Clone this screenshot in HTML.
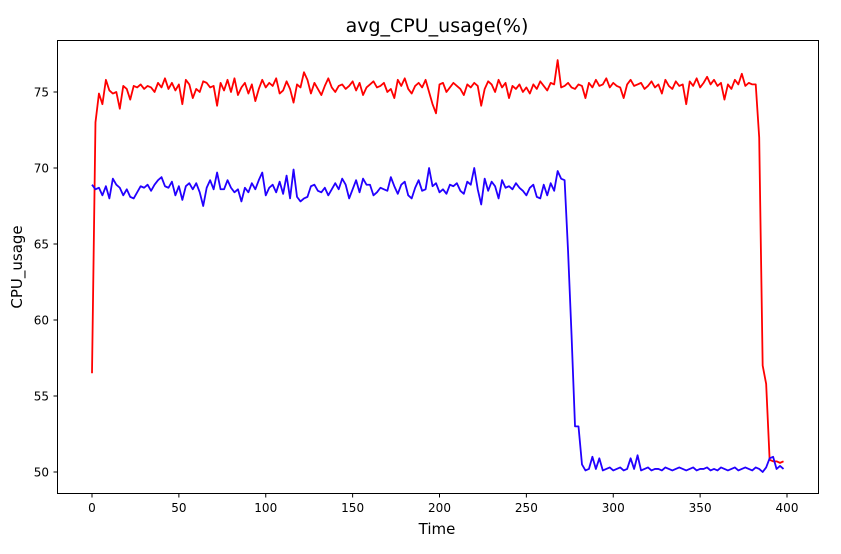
<!DOCTYPE html>
<html><head><meta charset="utf-8"><style>
body{margin:0;background:#fff;}
svg text{font-family:"DejaVu Sans","Liberation Sans",sans-serif;fill:#000;}
</style></head><body>
<svg id="chart" width="841" height="549" xmlns="http://www.w3.org/2000/svg">
<rect width="841" height="549" fill="#fff"/>
<text x="437" y="32" font-size="19" text-anchor="middle">avg_CPU_usage(%)</text>
<rect x="57.5" y="40.5" width="761" height="453" fill="none" stroke="#000" stroke-width="1"/>
<g id="xticks"></g>
<g id="yticks"></g>
<text x="437" y="534" font-size="15" text-anchor="middle">Time</text>
<text transform="translate(22,267) rotate(-90)" font-size="15" text-anchor="middle">CPU_usage</text>
<g id="series"></g>
</svg>
<script>
const xTickValues=[0,50,100,150,200,250,300,350,400];
const yTickValues=[50,55,60,65,70,75];
const redValues=[56.5,73.0,74.9,74.2,75.8,75.1,74.9,75.0,73.9,75.4,
75.2,74.5,75.4,75.3,75.5,75.2,75.4,75.3,75.0,75.6,
75.3,75.9,75.2,75.6,75.1,75.5,74.2,75.8,75.5,74.6,
75.2,75.0,75.7,75.6,75.3,75.4,74.1,75.6,75.1,75.8,
75.0,75.9,74.8,75.3,75.6,74.9,75.5,74.4,75.2,75.8,
75.3,75.6,75.4,75.9,74.9,75.1,75.7,75.2,74.3,75.5,
75.3,76.3,75.8,74.9,75.6,75.2,74.8,75.4,75.9,75.3,
75.0,75.4,75.5,75.2,75.4,75.7,75.1,75.6,74.8,75.3,
75.5,75.7,75.3,75.4,75.6,75.0,75.2,74.6,75.8,75.4,
75.9,75.2,74.9,75.4,75.6,75.3,75.8,75.0,74.2,73.6,
75.5,75.6,75.0,75.3,75.6,75.4,75.2,74.8,75.5,75.3,
75.6,75.4,74.1,75.2,75.7,75.5,75.0,75.8,75.3,75.6,
74.6,75.4,75.2,75.5,75.0,75.3,74.9,75.5,75.2,75.7,
75.4,75.1,75.6,75.5,77.1,75.3,75.4,75.6,75.3,75.2,
75.5,75.4,74.6,75.6,75.3,75.8,75.4,75.5,75.9,75.3,
75.6,75.4,75.3,74.6,75.5,75.8,75.4,75.5,75.6,75.2,
75.4,75.7,75.3,75.5,74.9,75.8,75.4,75.2,75.7,75.4,
75.5,74.2,75.7,75.4,75.9,75.3,75.6,76.0,75.5,75.8,
75.4,75.6,74.5,75.5,75.2,75.8,75.5,76.2,75.4,75.6,
75.5,75.5,72.0,57.0,55.8,50.8,50.7,50.7,50.6,50.7];
const blueValues=[68.9,68.6,68.7,68.2,68.8,68.0,69.3,68.9,68.7,68.2,
68.6,68.1,68.0,68.4,68.8,68.7,68.9,68.5,68.9,69.2,
69.4,68.8,68.7,69.1,68.2,68.8,67.9,68.8,69.0,68.6,
69.0,68.4,67.5,68.7,69.2,68.6,69.7,68.6,68.6,69.2,
68.7,68.4,68.6,67.8,68.7,68.4,69.0,68.6,69.2,69.7,
68.2,68.7,68.9,68.4,69.1,68.3,69.5,68.0,69.9,68.1,
67.8,68.0,68.1,68.8,68.9,68.5,68.4,68.7,68.2,68.6,
69.0,68.6,69.3,68.9,68.0,68.6,69.2,68.4,69.3,68.9,
68.9,68.2,68.4,68.7,68.6,68.5,69.4,68.8,68.3,68.9,
69.1,68.2,68.0,68.7,69.2,68.5,68.6,70.0,68.8,69.0,
68.4,68.6,68.3,68.9,68.8,69.0,68.5,68.3,69.1,68.9,
70.0,68.6,67.6,69.3,68.5,69.1,68.8,68.0,69.2,68.7,
68.8,68.6,69.0,68.7,68.5,68.2,68.7,68.9,68.1,68.0,
68.9,68.2,69.0,68.5,69.8,69.3,
69.2,64.5,59.0,53.0,53.0,50.5,
50.1,50.2,51.0,50.2,50.9,50.1,50.2,50.3,
50.1,50.2,50.3,50.1,50.2,50.9,50.2,51.1,50.1,50.2,
50.3,50.1,50.2,50.2,50.1,50.3,50.2,50.1,50.2,50.3,
50.2,50.1,50.2,50.3,50.1,50.2,50.2,50.3,50.1,50.2,
50.1,50.3,50.2,50.1,50.2,50.3,50.1,50.2,50.3,50.2,
50.1,50.3,50.2,50.0,50.3,50.9,51.0,50.2,50.4,50.2];
const timeStep=2;

const NS="http://www.w3.org/2000/svg";
function xScale(t){return 92+t*(787-92)/400;}
function yScale(v){return 472-(v-50)*(472-92)/25;}
function mk(tag,attrs,parent){const e=document.createElementNS(NS,tag);for(const k in attrs)e.setAttribute(k,attrs[k]);parent.appendChild(e);return e;}
const xg=document.getElementById('xticks'),yg=document.getElementById('yticks'),sg=document.getElementById('series');
xTickValues.forEach(v=>{const x=xScale(v);
 const l=mk('line',{x1:x,x2:x,y1:493.5,y2:497.5,stroke:'#000'},xg);
 
 
 const t=mk('text',{x:x,y:512,'font-size':12,'text-anchor':'middle'},xg);t.textContent=v;
 
 
});
yTickValues.forEach(v=>{const y=yScale(v);
 const l=mk('line',{x1:53.5,x2:57.5,y1:y,y2:y,stroke:'#000'},yg);
 
 
 const t=mk('text',{x:49,y:y+4.5,'font-size':12,'text-anchor':'end'},yg);t.textContent=v;
 
 
});
function drawSeries(vals,color,name){
 const d=vals.map((v,i)=>(i?'L':'M')+xScale(i*timeStep).toFixed(2)+','+yScale(v).toFixed(2)).join('');
 const p=mk('path',{d:d,fill:'none',stroke:color,'stroke-width':1.8,'stroke-linejoin':'round'},sg);
 
 
}
drawSeries(redValues,'#ff0000','red-series-line');
drawSeries(blueValues,'#2200ff','blue-series-line');
</script>
</body></html>
